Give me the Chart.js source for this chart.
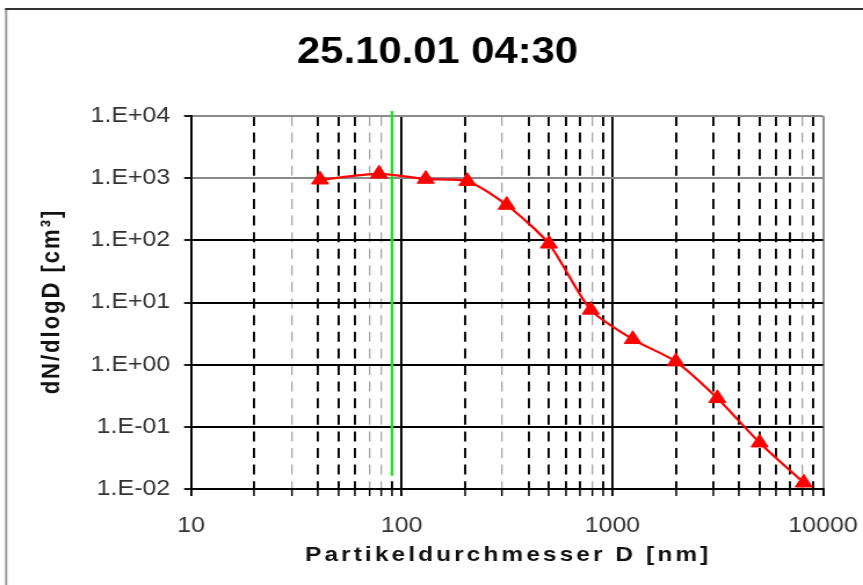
<!DOCTYPE html>
<html>
<head>
<meta charset="utf-8">
<script src="https://cdn.jsdelivr.net/npm/chart.js@4.4.1/dist/chart.umd.min.js"></script>
<style>
  html, body { margin: 0; padding: 0; background: #fff; overflow: hidden; }
  /* the chart is laid out narrower and widened horizontally, like a stretched office chart */
  #wrap { width: 744px; height: 585px; transform: scaleX(1.16); transform-origin: 0 0; }
</style>
</head>
<body>
<div id="wrap"><canvas id="c" width="744" height="585"></canvas></div>
<script>
// --- chart data ---------------------------------------------------------
const chartTitle = '25.10.01 04:30';
const xTitle = 'Partikeldurchmesser D [nm]';
const yTitle = 'dN/dlogD [cm³]';

// particle diameter [nm] and number size distribution dN/dlogD [cm^-3]
const diameters      = [41, 78, 130, 205, 315, 500, 790, 1250, 2000, 3150, 5000, 8100];
const concentrations = [944, 1175, 968, 893, 370, 88, 7.6, 2.56, 1.12, 0.288, 0.0556, 0.0126];

// green reference line
const markerD     = [90, 90];
const markerRange = [12000, 0.0164];

// axes
const xDecades      = [10, 100, 1000, 10000];
const xDecadeLabels = ['10', '100', '1000', '10000'];
const yDecades      = [0.01, 0.1, 1, 10, 100, 1000, 10000];
const yDecadeLabels = ['1.E-02', '1.E-01', '1.E+00', '1.E+01', '1.E+02', '1.E+03', '1.E+04'];
const xLightLines   = [30, 70, 80, 300, 800, 8000];
const yLightLines   = [1000, 10000];

// --- helpers ------------------------------------------------------------
const FONT = "'Liberation Sans', Arial, Helvetica, sans-serif";

const xTickValues = [];
for (let i = 0; i < xDecades.length - 1; i++) {
  for (let m = 1; m <= 9; m++) xTickValues.push(m * xDecades[i]);
}
xTickValues.push(xDecades[xDecades.length - 1]);

const tickVal = (ctx) => (ctx && ctx.tick) ? ctx.tick.value : undefined;

const seriesPoints = diameters.map((d, i) => ({ x: d, y: concentrations[i] }));
const markerPoints = markerD.map((d, i) => ({ x: d, y: markerRange[i] }));

// outer frame of the chart object
const framePlugin = {
  id: 'frame',
  beforeDraw(chart) {
    const ctx = chart.ctx;
    ctx.save();
    ctx.lineWidth = 2;
    ctx.beginPath();
    ctx.moveTo(5.3, 600);
    ctx.lineTo(5.3, 9);
    ctx.strokeStyle = '#999';
    ctx.stroke();
    ctx.beginPath();
    ctx.moveTo(4.3, 9);
    ctx.lineTo(800, 9);
    ctx.strokeStyle = '#333';
    ctx.stroke();
    ctx.restore();
  }
};

// axis titles with the wide letter spacing of the original
const axisTitlePlugin = {
  id: 'axisTitles',
  afterDraw(chart) {
    const ctx = chart.ctx;
    const area = chart.chartArea;
    ctx.save();
    ctx.fillStyle = '#111';
    ctx.textAlign = 'center';
    ctx.textBaseline = 'middle';

    ctx.font = 'bold 21px ' + FONT;
    ctx.letterSpacing = '2.7px';
    ctx.fillText(xTitle, (area.left + area.right) / 2 + 1, 555);

    ctx.translate(45.3, 301.5);
    ctx.rotate(-Math.PI / 2);
    ctx.font = 'bold 22px ' + FONT;
    ctx.letterSpacing = '2px';
    ctx.fillText(yTitle, 0, 0);
    ctx.restore();
  }
};

new Chart(document.getElementById('c'), {
  type: 'scatter',
  data: {
    datasets: [
      {
        data: seriesPoints,
        showLine: true,
        tension: 0.25,
        borderColor: '#ff0000',
        borderWidth: 2.2,
        backgroundColor: '#ff0000',
        pointStyle: 'triangle',
        pointRadius: 8.5,
        pointBorderWidth: 1,
        pointBorderColor: '#ff0000',
        pointBackgroundColor: '#ff0000'
      },
      {
        data: markerPoints,
        showLine: true,
        borderColor: '#18e818',
        borderWidth: 2.3,
        pointRadius: 0,
        clip: false
      }
    ]
  },
  options: {
    responsive: false,
    animation: false,
    events: [],
    layout: { padding: { left: 44.9, right: 34.5, top: 0, bottom: 0 } },
    plugins: {
      legend: { display: false },
      tooltip: { enabled: false },
      title: {
        display: true,
        text: chartTitle,
        color: '#000',
        font: { family: FONT, size: 36, weight: 'bold' },
        padding: { top: 31.2, bottom: 41.6 }
      }
    },
    scales: {
      x: {
        type: 'logarithmic',
        min: 10,
        max: 10000,
        afterBuildTicks(scale) {
          scale.ticks = xTickValues.map(v => ({ value: v, major: xDecades.includes(v) }));
        },
        afterFit(scale) {
          scale.height = 96;
          scale.paddingLeft = 0;
          scale.paddingRight = 0;
        },
        ticks: {
          autoSkip: false,
          maxRotation: 0,
          minRotation: 0,
          padding: 17,
          color: '#333',
          font: { family: FONT, size: 21.5 },
          callback(value) {
            const i = xDecades.indexOf(value);
            return i >= 0 ? xDecadeLabels[i] : '';
          }
        },
        grid: {
          color(ctx) {
            const v = tickVal(ctx);
            if (v === 10000) return '#8a8a8a';
            if (xLightLines.includes(v)) return '#a6a6a6';
            return '#000';
          },
          lineWidth(ctx) {
            const v = tickVal(ctx);
            if (xDecades.includes(v)) return 1.9;
            return xLightLines.includes(v) ? 1.3 : 1.9;
          },
          tickLength: 7,
          tickColor: '#000',
          tickWidth(ctx) {
            return xDecades.includes(tickVal(ctx)) ? 1.9 : 1.5;
          }
        },
        border: {
          display: true,
          color: '#000',
          width: 2,
          dash(ctx) {
            const v = tickVal(ctx);
            return (v !== undefined && !xDecades.includes(v)) ? [10, 6.6] : [];
          }
        }
      },
      y: {
        type: 'logarithmic',
        min: 0.01,
        max: 10000,
        afterBuildTicks(scale) {
          scale.ticks = yDecades.map(v => ({ value: v, major: true }));
        },
        afterFit(scale) {
          scale.width = 119.8;
          scale.paddingTop = 0;
          scale.paddingBottom = 0;
        },
        ticks: {
          autoSkip: false,
          padding: 12,
          color: '#333',
          font: { family: FONT, size: 21.5 },
          callback(value) {
            const i = yDecades.findIndex(d => Math.abs(Math.log10(d) - Math.log10(value)) < 1e-6);
            return i >= 0 ? yDecadeLabels[i] : '';
          }
        },
        grid: {
          color(ctx) {
            const v = tickVal(ctx);
            return (v !== undefined && yLightLines.some(d => Math.abs(d - v) < 1e-6)) ? '#8a8a8a' : '#000';
          },
          lineWidth: 2,
          tickLength: 6,
          tickColor: '#000',
          tickWidth: 1.8
        },
        border: { display: true, color: '#000', width: 1.9 }
      }
    }
  },
  plugins: [framePlugin, axisTitlePlugin]
});
</script>
</body>
</html>
